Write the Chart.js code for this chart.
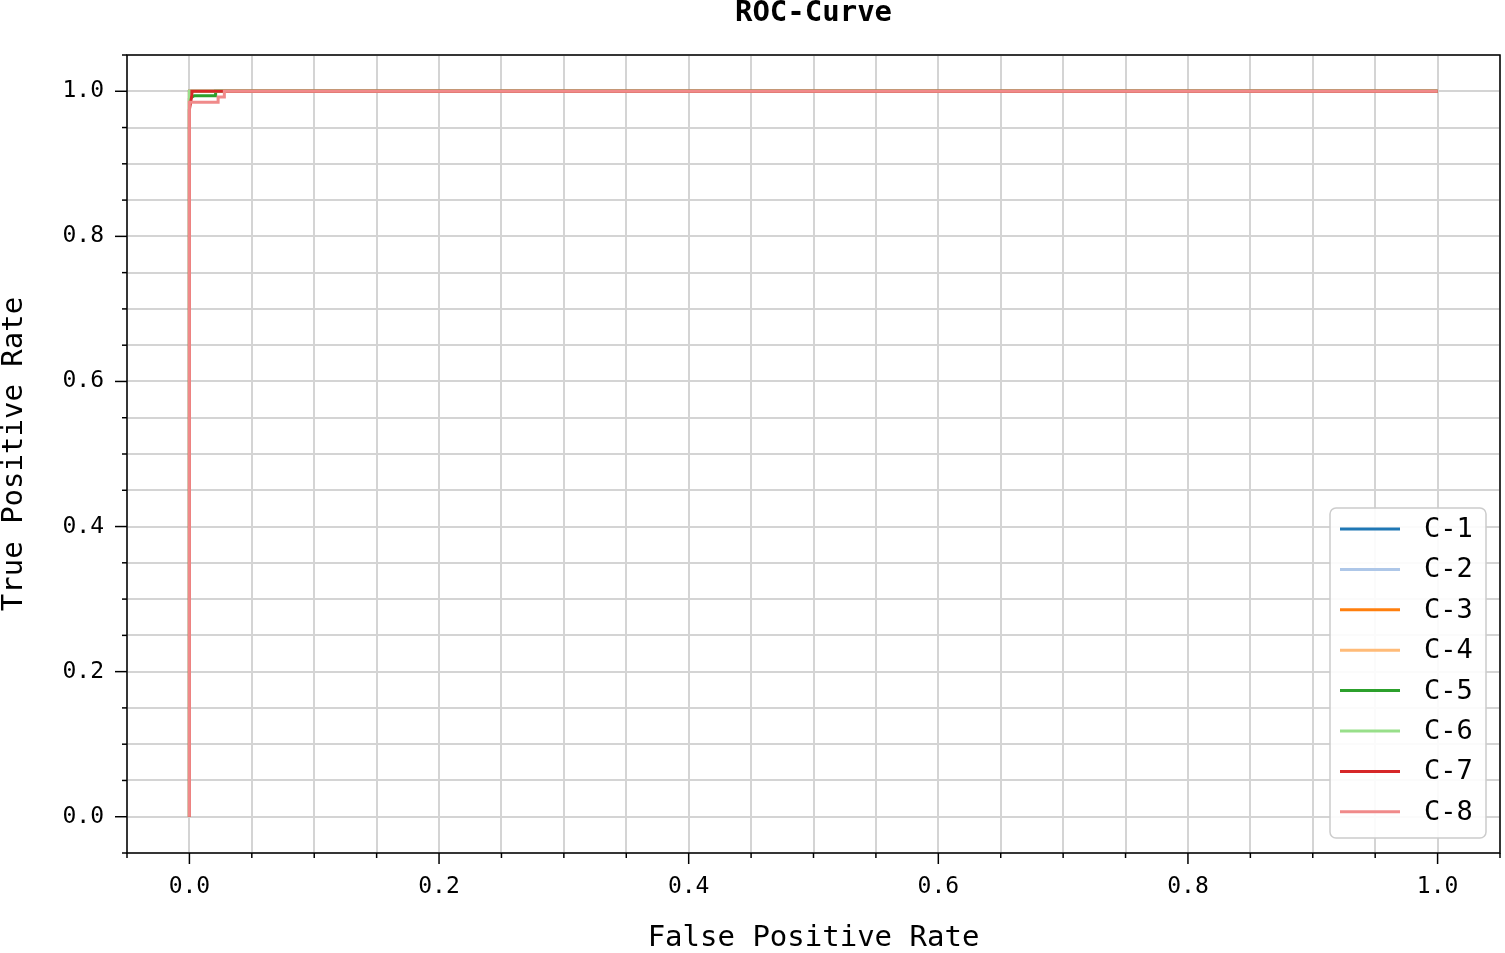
<!DOCTYPE html>
<html>
<head>
<meta charset="utf-8">
<script src="https://cdn.jsdelivr.net/npm/chart.js@4/dist/chart.umd.min.js"></script>
<style>
  html, body { margin: 0; padding: 0; background: #fff; }
  #wrap { width: 1505px; height: 953px; }
</style>
</head>
<body>
<div id="wrap"><canvas id="rocChart"></canvas></div>
<script>
// class names and colours (tab20 style)
const classNames = ['C-1', 'C-2', 'C-3', 'C-4', 'C-5', 'C-6', 'C-7', 'C-8'];
const classColors = ['#1f77b4', '#aec7e8', '#ff7f0e', '#ffbb78', '#2ca02c', '#98df8a', '#d62728', '#f08a8a'];

// ROC points per class (false positive rate / true positive rate)
const fpr1 = [0, 0, 1];
const tpr1 = [0, 1, 1];
const fpr2 = [0, 0, 1];
const tpr2 = [0, 1, 1];
const fpr3 = [0, 0, 1];
const tpr3 = [0, 1, 1];
const fpr4 = [0, 0, 1];
const tpr4 = [0, 1, 1];
const fpr5 = [0, 0, 0.004, 0.021, 0.021, 1];
const tpr5 = [0, 0.99, 0.994, 0.994, 1, 1];
const fpr6 = [0, 0, 1];
const tpr6 = [0, 1, 1];
const fpr7 = [0, 0, 0.002, 0.002, 1];
const tpr7 = [0, 0.975, 0.995, 1, 1];
const fpr8 = [0, 0, 0.023, 0.023, 0.028, 0.028, 1];
const tpr8 = [0, 0.985, 0.985, 0.992, 0.992, 1, 1];

const fprList = [fpr1, fpr2, fpr3, fpr4, fpr5, fpr6, fpr7, fpr8];
const tprList = [tpr1, tpr2, tpr3, tpr4, tpr5, tpr6, tpr7, tpr8];

const majorTicks = [0, 0.2, 0.4, 0.6, 0.8, 1.0];

const FONT = "'DejaVu Sans Mono', 'Liberation Mono', monospace";

function isMajor(v) {
    return majorTicks.some(m => Math.abs(m - v) < 1e-6);
}

// later classes are drawn on top (lower order = drawn last)
const datasets = classNames.map((name, i) => ({
    label: name,
    data: fprList[i].map((x, j) => ({ x: x, y: tprList[i][j] })),
    borderColor: classColors[i],
    backgroundColor: classColors[i],
    borderWidth: 3,
    pointRadius: 0,
    showLine: true,
    fill: false,
    tension: 0,
    order: classNames.length - i
}));

// frame, tick marks, title and legend drawn on top of the chart
const framePlugin = {
    id: 'framePlugin',
    afterDraw(chart) {
        const ctx = chart.ctx;
        const area = chart.chartArea;
        const xs = chart.scales.x;
        const ys = chart.scales.y;
        ctx.save();

        // box round plot area
        ctx.strokeStyle = '#000';
        ctx.lineWidth = 1.5;
        ctx.strokeRect(area.left, area.top, area.right - area.left, area.bottom - area.top);

        // tick marks: long on labelled values, short elsewhere
        xs.ticks.forEach(t => {
            const px = xs.getPixelForValue(t.value);
            const len = isMajor(t.value) ? 11 : 5;
            ctx.beginPath();
            ctx.moveTo(px, area.bottom);
            ctx.lineTo(px, area.bottom + len);
            ctx.stroke();
        });
        ys.ticks.forEach(t => {
            const py = ys.getPixelForValue(t.value);
            const len = isMajor(t.value) ? 12 : 5;
            ctx.beginPath();
            ctx.moveTo(area.left, py);
            ctx.lineTo(area.left - len, py);
            ctx.stroke();
        });

        // title
        ctx.fillStyle = '#000';
        ctx.font = 'bold 29px ' + FONT;
        ctx.textAlign = 'center';
        ctx.textBaseline = 'middle';
        ctx.fillText('ROC-Curve', (area.left + area.right) / 2, 13);

        // legend box in lower right corner
        const boxW = 156, boxH = 330;
        const bx = area.right - 14 - boxW;
        const by = area.bottom - 15 - boxH;
        ctx.beginPath();
        ctx.roundRect(bx, by, boxW, boxH, 6);
        ctx.fillStyle = 'rgba(255,255,255,0.9)';
        ctx.fill();
        ctx.strokeStyle = '#cccccc';
        ctx.lineWidth = 1.5;
        ctx.stroke();

        ctx.font = '27px ' + FONT;
        ctx.textAlign = 'left';
        chart.data.datasets.forEach((ds, i) => {
            const ly = by + 21 + i * 40.4;
            ctx.strokeStyle = ds.borderColor;
            ctx.lineWidth = 3;
            ctx.beginPath();
            ctx.moveTo(bx + 10, ly);
            ctx.lineTo(bx + 70, ly);
            ctx.stroke();
            ctx.fillStyle = '#000';
            ctx.fillText(ds.label, bx + 94, ly + 1);
        });

        ctx.restore();
    }
};

const ctx = document.getElementById('rocChart').getContext('2d');

new Chart(ctx, {
    type: 'scatter',
    data: { datasets: datasets },
    options: {
        responsive: true,
        maintainAspectRatio: false,
        animation: false,
        layout: { padding: { top: 55, right: 5, left: 0, bottom: 0 } },
        scales: {
            x: {
                type: 'linear',
                min: -0.05,
                max: 1.05,
                afterFit: s => { s.height = 100; s.paddingLeft = 0; s.paddingRight = 0; },
                grid: { color: '#d4d4d4', lineWidth: 2, drawTicks: false },
                border: { display: false },
                ticks: {
                    stepSize: 0.05,
                    autoSkip: false,
                    maxRotation: 0,
                    padding: 20,
                    color: '#000',
                    font: { family: FONT, size: 23 },
                    callback: v => isMajor(v) ? Math.abs(v).toFixed(1) : ''
                },
                title: {
                    display: true,
                    text: 'False Positive Rate',
                    color: '#000',
                    font: { family: FONT, size: 29, lineHeight: 1 },
                    padding: 0
                }
            },
            y: {
                type: 'linear',
                min: -0.05,
                max: 1.05,
                afterFit: s => { s.width = 127; s.paddingTop = 0; s.paddingBottom = 0; },
                grid: { color: '#d4d4d4', lineWidth: 2, drawTicks: false },
                border: { display: false },
                ticks: {
                    stepSize: 0.05,
                    autoSkip: false,
                    padding: 23,
                    color: '#000',
                    font: { family: FONT, size: 23 },
                    callback: v => isMajor(v) ? Math.abs(v).toFixed(1) : ''
                },
                title: {
                    display: true,
                    text: 'True Positive Rate',
                    color: '#000',
                    font: { family: FONT, size: 29, lineHeight: 1 },
                    padding: 0
                }
            }
        },
        plugins: {
            legend: { display: false },
            title: { display: false },
            tooltip: { enabled: false }
        }
    },
    plugins: [framePlugin]
});
</script>
</body>
</html>
